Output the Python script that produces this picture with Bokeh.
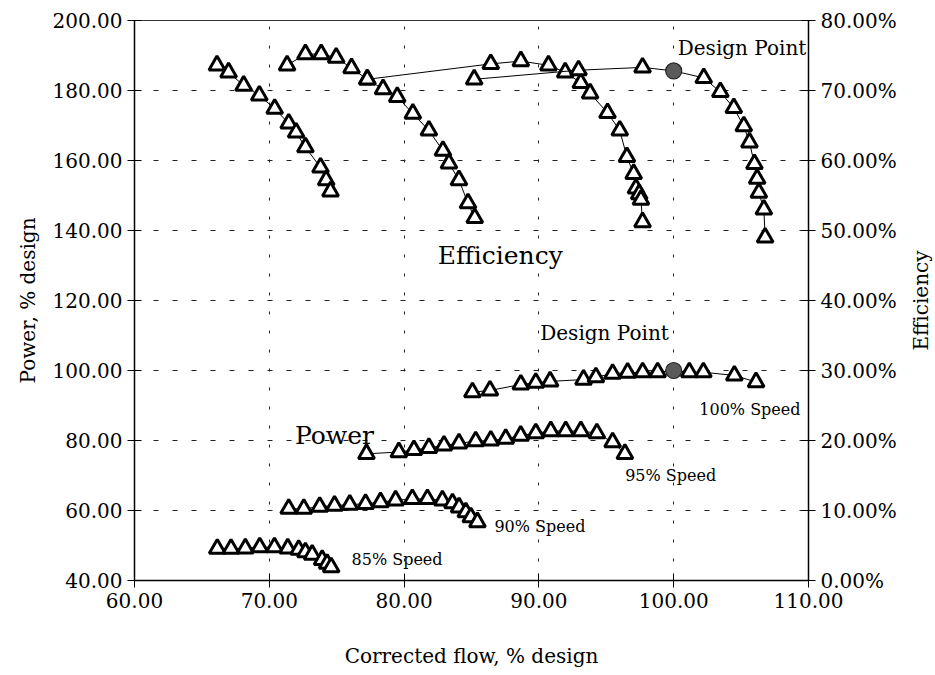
from bokeh.plotting import figure
from bokeh.layouts import row
from bokeh.models import Range1d, LinearAxis, FixedTicker, PrintfTickFormatter, Label
from bokeh.embed import file_html
from bokeh.resources import INLINE

# ---------------- data ----------------
# Efficiency (%) versus corrected flow (% design), one series per speed line
eff85_flow = [66.12, 66.98, 68.10, 69.26, 70.40, 71.44, 71.99, 72.68, 73.80, 74.22, 74.54]
eff85_val = [73.6, 72.6, 70.7, 69.3, 67.4, 65.3, 64.0, 61.9, 59.0, 57.2, 55.6]

eff90_flow = [71.32, 72.68, 73.85, 74.96, 76.10, 77.27, 78.44, 79.49, 80.65, 81.84, 82.88, 83.33, 84.07, 84.74, 85.24]
eff90_val = [73.6, 75.2, 75.2, 74.7, 73.2, 71.6, 70.2, 69.1, 66.7, 64.3, 61.4, 59.6, 57.2, 53.9, 51.8]

eff95_flow = [77.27, 86.43, 88.66, 90.71, 91.95, 93.11, 93.80, 95.09, 96.00, 96.53, 97.03, 97.20, 97.44, 97.57, 97.69]
eff95_val = [71.6, 73.8, 74.2, 73.6, 72.6, 71.1, 69.6, 66.8, 64.3, 60.5, 58.1, 56.0, 55.2, 54.4, 51.2]

eff100_flow = [85.20, 92.94, 97.69, 102.23, 103.46, 104.46, 105.20, 105.62, 105.99, 106.19, 106.32, 106.69, 106.78]
eff100_val = [71.6, 72.9, 73.3, 71.8, 69.8, 67.5, 64.9, 62.6, 59.5, 57.4, 55.4, 53.0, 49.0]

# Power (% design) versus corrected flow (% design)
pow85_flow = [66.14, 67.16, 68.22, 69.29, 70.38, 71.37, 72.18, 72.68, 73.18, 73.92, 74.29, 74.59]
pow85_val = [49.1, 49.1, 49.2, 49.5, 49.5, 49.2, 48.8, 48.1, 47.4, 45.9, 44.8, 43.8]

pow90_flow = [71.44, 72.56, 73.74, 74.84, 75.97, 77.14, 78.25, 79.37, 80.61, 81.73, 82.84, 83.59, 84.08, 84.58, 84.95, 85.44]
pow90_val = [60.5, 60.5, 61.1, 61.4, 61.7, 61.9, 62.4, 62.9, 63.3, 63.3, 62.9, 62.1, 60.9, 59.5, 58.1, 56.7]

pow95_flow = [77.21, 79.61, 80.73, 81.84, 82.96, 84.07, 85.31, 86.43, 87.54, 88.65, 89.77, 90.88, 91.99, 93.11, 94.30, 95.47, 96.38]
pow95_val = [76.2, 76.7, 77.3, 77.9, 78.6, 79.2, 79.8, 80.0, 80.5, 81.4, 82.1, 82.7, 82.7, 82.7, 82.1, 79.5, 76.2]

pow100_flow = [85.07, 86.37, 88.66, 89.77, 90.83, 93.31, 94.23, 95.47, 96.58, 97.70, 98.81, 101.16, 102.20, 104.50, 106.11]
pow100_val = [93.8, 94.3, 96.0, 96.5, 96.9, 97.4, 98.1, 99.1, 99.4, 99.5, 99.5, 99.5, 99.5, 98.6, 96.7]

# Design point
design_flow = [100.0]
design_power = [100.0]
design_eff = [72.8]

x_ticks = [60, 70, 80, 90, 100, 110]
power_ticks = [40, 60, 80, 100, 120, 140, 160, 180, 200]
eff_ticks = [0, 10, 20, 30, 40, 50, 60, 70, 80]

SERIF = "DejaVu Serif"

p = figure(width=905, height=675, output_backend="svg", toolbar_location=None,
           x_range=Range1d(60, 110), y_range=Range1d(40, 200),
           min_border_left=134, min_border_right=97, min_border_top=20, min_border_bottom=95)
p.extra_y_ranges = {"eff": Range1d(0, 80)}
p.background_fill_color = "white"
p.border_fill_color = "white"
p.outline_line_color = "#333333"
p.outline_line_width = 1

# grids
p.xgrid.ticker = FixedTicker(ticks=x_ticks[1:-1])
p.ygrid.ticker = FixedTicker(ticks=power_ticks[1:-1])
p.xgrid.grid_line_color = "#222222"
p.xgrid.grid_line_dash = "3 16"
p.ygrid.grid_line_color = "#222222"
p.ygrid.grid_line_dash = "5 14"
p.grid.grid_line_width = 1


def style_axis(ax):
    ax.axis_line_color = "black"
    ax.axis_line_width = 1.5
    ax.major_tick_line_color = "black"
    ax.major_tick_line_width = 1
    ax.major_tick_in = 7
    ax.major_tick_out = 7
    ax.minor_tick_line_color = None
    ax.major_label_text_font = SERIF
    ax.major_label_text_font_size = "20px"
    ax.major_label_text_color = "black"
    ax.axis_label_text_font = SERIF
    ax.axis_label_text_font_size = "20px"
    ax.axis_label_text_font_style = "normal"
    ax.axis_label_text_color = "black"


p.xaxis.ticker = FixedTicker(ticks=x_ticks)
p.xaxis.formatter = PrintfTickFormatter(format="%.2f")
p.xaxis.axis_label = "Corrected flow, % design"
style_axis(p.xaxis[0])
p.xaxis.axis_label_standoff = 33
p.yaxis.ticker = FixedTicker(ticks=power_ticks)
p.yaxis.formatter = PrintfTickFormatter(format="%.2f")
p.yaxis.axis_label = "Power, % design"
style_axis(p.yaxis[0])
p.yaxis.axis_label_standoff = 10

right = LinearAxis(y_range_name="eff", ticker=FixedTicker(ticks=eff_ticks),
                   formatter=PrintfTickFormatter(format="%.2f%%"))
style_axis(right)
p.add_layout(right, "right")

TRI = dict(marker="triangle", size=16, line_width=3, line_color="black", fill_color="white")

# efficiency lines
for fl, ev in [(eff85_flow, eff85_val), (eff90_flow, eff90_val), (eff95_flow, eff95_val)]:
    p.line(fl, ev, y_range_name="eff", line_color="black", line_width=1)
    p.scatter(fl, ev, y_range_name="eff", **TRI)

# 100% efficiency line passes through the design point
pairs = sorted(list(zip(eff100_flow, eff100_val)) + list(zip(design_flow, design_eff)))
p.line([a for a, b in pairs], [b for a, b in pairs], y_range_name="eff", line_color="black", line_width=1)
p.scatter(eff100_flow, eff100_val, y_range_name="eff", **TRI)

# power lines
for fl, pv in [(pow85_flow, pow85_val), (pow90_flow, pow90_val), (pow95_flow, pow95_val)]:
    p.line(fl, pv, line_color="black", line_width=1)
    p.scatter(fl, pv, **TRI)

pairs = sorted(list(zip(pow100_flow, pow100_val)) + list(zip(design_flow, design_power)))
p.line([a for a, b in pairs], [b for a, b in pairs], line_color="black", line_width=1)
p.scatter(pow100_flow, pow100_val, **TRI)

# design points
DP = dict(marker="circle", size=16, fill_color="#5a5a5a", line_color="#222222", line_width=1.2)
p.scatter(design_flow, design_eff, y_range_name="eff", **DP)
p.scatter(design_flow, design_power, **DP)

# annotations
labels = [
    (100.3, 192.2, "Design Point", "20px"),
    (82.5, 133.0, "Efficiency", "25px"),
    (90.1, 110.8, "Design Point", "20px"),
    (71.9, 81.5, "Power", "25px"),
    (101.9, 88.9, "100% Speed", "16px"),
    (96.4, 70.0, "95% Speed", "16px"),
    (86.7, 55.3, "90% Speed", "16px"),
    (76.1, 46.0, "85% Speed", "16px"),
]
for lx, ly, txt, fs in labels:
    p.add_layout(Label(x=lx, y=ly, text=txt, text_font=SERIF, text_font_size=fs,
                       text_color="black", text_baseline="alphabetic", text_align="left"))

# narrow companion panel that carries the right-hand title "Efficiency",
# written bottom-to-top as in the reference
q = figure(width=30, height=675, output_backend="svg", toolbar_location=None,
           x_range=Range1d(0, 1), y_range=Range1d(0, 80),
           min_border_left=0, min_border_right=0, min_border_top=20, min_border_bottom=95)
q.outline_line_color = None
q.grid.grid_line_color = None
q.xaxis.visible = False
q.yaxis.ticker = FixedTicker(ticks=[])
q.yaxis.axis_line_color = None
q.yaxis.major_tick_in = 0
q.yaxis.major_tick_out = 0
q.yaxis.minor_tick_line_color = None
q.yaxis.axis_label = "Efficiency"
q.yaxis.axis_label_standoff = 0
q.yaxis.axis_label_text_font = SERIF
q.yaxis.axis_label_text_font_size = "20px"
q.yaxis.axis_label_text_font_style = "normal"
q.yaxis.axis_label_text_color = "black"

layout = row(p, q, spacing=0)
open("out.html", "w").write(file_html(layout, INLINE))
